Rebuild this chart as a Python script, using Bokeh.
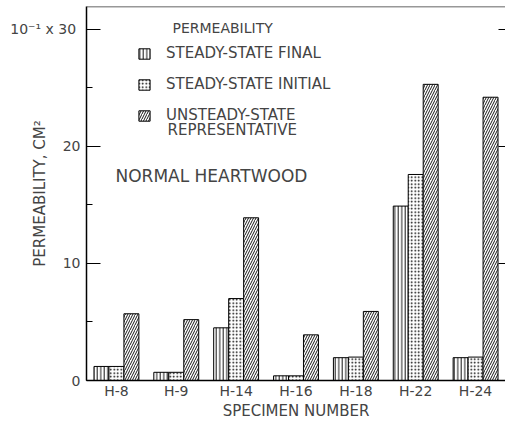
from bokeh.plotting import figure
from bokeh.models import (ColumnDataSource, FactorRange, Range1d, LinearAxis,
                          SingleIntervalTicker, Legend, LegendItem, Label, Span, CustomJSTickFormatter)
from bokeh.transform import dodge
from bokeh.embed import file_html
from bokeh.resources import INLINE

specimens = ["H-8", "H-9", "H-14", "H-16", "H-18", "H-22", "H-24"]
steady_final = [1.2, 0.7, 4.5, 0.4, 1.95, 14.9, 1.95]
steady_initial = [1.2, 0.7, 7.0, 0.4, 2.0, 17.6, 2.0]
unsteady_repr = [5.7, 5.2, 13.9, 3.9, 5.9, 25.3, 24.2]
y_tick_labels = {0: "0", 10: "10", 20: "20", 30: "10\u207b\u00b9 x  30"}

FONT = "DejaVu Sans"
Y_TOP = 31.95

src = ColumnDataSource(dict(x=specimens, sf=steady_final, si=steady_initial, ur=unsteady_repr))

p = figure(width=505, height=422, output_backend="svg", toolbar_location=None,
           x_range=FactorRange(*specimens), y_range=Range1d(0, Y_TOP),
           min_border_left=86, min_border_top=6, min_border_right=0, min_border_bottom=38)
p.xgrid.visible = False
p.ygrid.visible = False
p.outline_line_color = None
p.background_fill_color = "white"

common = dict(width=0.25, source=src, fill_color="white", line_color="black", line_width=1,
              hatch_color="black", hatch_weight=0.9)
r1 = p.vbar(x=dodge("x", -0.25, range=p.x_range), top="sf", hatch_pattern="vertical_line",
            hatch_scale=3.5, **common)
r2 = p.vbar(x=dodge("x", 0.0, range=p.x_range), top="si", hatch_pattern="dot",
            hatch_scale=3.5, **common)
r3 = p.vbar(x=dodge("x", 0.25, range=p.x_range), top="ur", hatch_pattern="right_diagonal_line",
            hatch_scale=5, **common)

# left axis
ya = p.yaxis[0]
ya.ticker = SingleIntervalTicker(interval=10, num_minor_ticks=2)
ya.major_label_overrides = y_tick_labels
ya.major_tick_in = 14
ya.major_tick_out = 0
ya.minor_tick_in = 6
ya.minor_tick_out = 0
ya.axis_line_width = 1.5
ya.major_label_standoff = 6
ya.major_label_text_font = FONT
ya.major_label_text_font_size = "14px"
ya.axis_label = "PERMEABILITY, CM\u00b2"
ya.axis_label_text_font = FONT
ya.axis_label_text_font_size = "15px"
ya.axis_label_text_font_style = "normal"
ya.axis_label_standoff = -42

# bottom axis
xa = p.xaxis[0]
xa.major_tick_line_color = None
xa.major_tick_in = 0
xa.major_tick_out = 0
xa.axis_line_width = 1.5
xa.major_label_text_font = FONT
xa.major_label_text_font_size = "14px"
xa.major_label_standoff = 2
xa.axis_label = "SPECIMEN NUMBER"
xa.axis_label_text_font = FONT
xa.axis_label_text_font_size = "15px"
xa.axis_label_text_font_style = "normal"
xa.axis_label_standoff = 0

# right axis: inward ticks only
ra = LinearAxis(ticker=SingleIntervalTicker(interval=10, num_minor_ticks=0),
                formatter=CustomJSTickFormatter(code="return ''"))
ra.axis_line_color = None
ra.major_tick_in = 7
ra.major_tick_out = 0
ra.major_label_standoff = 0
ra.minor_tick_line_color = None
ra.major_label_text_font_size = "0px"
p.add_layout(ra, "right")

# top frame line
p.add_layout(Span(location=Y_TOP, dimension="width", line_color="#333333", line_width=1.5))

# legend
legend = Legend(items=[LegendItem(label="STEADY-STATE FINAL", renderers=[r1]),
                       LegendItem(label="STEADY-STATE INITIAL", renderers=[r2]),
                       LegendItem(label="UNSTEADY-STATE", renderers=[r3])],
                location=(51, 256), padding=0, margin=0, spacing=13,
                glyph_width=14, glyph_height=13, label_standoff=15,
                label_text_font=FONT, label_text_font_size="15px",
                border_line_color=None, background_fill_alpha=0)
p.add_layout(legend, "center")

p.add_layout(Label(x=81, y=251, x_units="screen", y_units="screen", text="REPRESENTATIVE",
                   text_font=FONT, text_font_size="15px", text_baseline="middle"))
p.add_layout(Label(x=86, y=353, x_units="screen", y_units="screen", text="PERMEABILITY",
                   text_font=FONT, text_font_size="14px", text_baseline="middle"))
p.add_layout(Label(x=29, y=205, x_units="screen", y_units="screen", text="NORMAL   HEARTWOOD",
                   text_font=FONT, text_font_size="17px", text_baseline="middle"))

open("out.html", "w").write(file_html(p, INLINE))
